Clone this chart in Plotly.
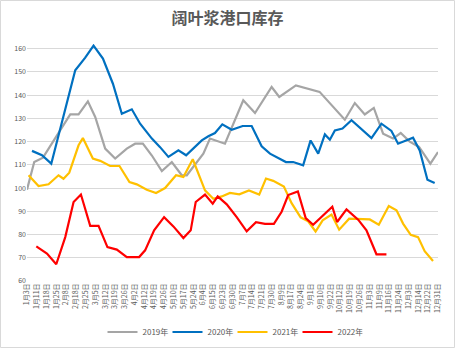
import plotly.graph_objects as go

title = "阔叶浆港口库存"

date_labels = ["1月3日", "1月11日", "1月18日", "1月25日", "2月8日", "2月18日", "2月25日",
               "3月5日", "3月12日", "3月19日", "3月26日", "4月2日", "4月12日", "4月19日",
               "4月26日", "5月10日", "5月17日", "5月24日", "6月4日", "6月15日", "6月23日",
               "6月30日", "7月7日", "7月14日", "7月21日", "7月30日", "8月9日", "8月17日",
               "8月24日", "9月1日", "9月10日", "9月22日", "10月12日", "10月19日", "10月26日",
               "11月3日", "11月9日", "11月16日", "11月24日", "12月3日", "12月14日",
               "12月22日", "12月31日"]

# positions are expressed in units of the date-label slots (0 = first label)
pos_2019 = [0, 0.74, 1.63, 4.42, 5.27, 6.22, 6.97, 7.99, 9.01, 10.2, 11.05, 11.84, 12.76,
            13.78, 14.8, 15.82, 16.33, 18.02, 18.7, 20.23, 22.1, 23.3, 25.0, 25.78, 27.48,
            29.9, 32.48, 33.5, 34.52, 35.44, 36.39, 37.41, 38.19, 39.11, 40.06, 41.22, 42]
val_2019 = [99.3, 111.2, 113.1, 131.7, 131.7, 137.3, 130.6, 117, 112.7, 117, 119.1, 119.1,
            114, 107.3, 111.2, 105.5, 105.5, 114.8, 121.3, 119.1, 137.8, 132.3, 143.5, 139.2,
            144.2, 141.4, 129.4, 136.6, 131.7, 134.5, 123.4, 121.3, 123.7, 120, 117.7, 110.5,
            115.5]

pos_2020 = [0.51, 1.53, 2.48, 4.93, 5.95, 6.8, 7.76, 8.78, 9.69, 10.71, 11.56, 12.76, 13.6,
            14.45, 15.47, 16.26, 17.86, 18.53, 19.21, 19.96, 20.92, 22.04, 22.96, 23.98,
            24.83, 26.46, 27.2, 28.22, 28.98, 29.76, 30.44, 30.95, 31.46, 32.24, 33.16, 35.2,
            36.22, 37.24, 37.92, 39.45, 40.13, 40.92, 41.66]
val_2020 = [116, 114.1, 110.5, 150.7, 156.1, 161.3, 155.7, 144.9, 132, 133.9, 127.7, 121.3,
            117.6, 113.4, 116.2, 114.1, 120.5, 122.3, 123.7, 127.4, 125.1, 126.7, 126.7, 118,
            114.8, 111.2, 111.2, 109.8, 120.5, 114.8, 123.1, 120.8, 124.8, 125.6, 129.2, 121.5,
            127.7, 124.6, 119.1, 121.7, 116.2, 103.6, 102.2]

pos_2021 = [0.16, 1.18, 2.2, 3.22, 3.73, 4.32, 5.27, 5.71, 6.73, 7.48, 8.5, 9.45, 10.47,
            11.22, 12.24, 13.19, 14.11, 15.23, 15.98, 16.94, 18.19, 19.04, 19.9, 20.74, 21.7,
            22.68, 23.73, 24.42, 25.16, 25.78, 26.25, 27.04, 27.96, 28.73, 29.49, 30.21,
            31.12, 31.9, 32.92, 35.03, 35.95, 36.97, 37.76, 38.43, 39.21, 39.96, 40.64, 41.49]
val_2021 = [105.5, 100.9, 101.6, 105.5, 104, 106.6, 118.4, 121.5, 112.7, 111.7, 109.5, 109.5,
            102.6, 101.6, 99.3, 97.9, 100, 105.5, 104.8, 112.4, 99, 95.4, 96.4, 97.9, 97.3,
            99, 97.2, 104.1, 103.1, 101.8, 100.7, 93.5, 87.4, 85.7, 81.3, 86.1, 88.6, 82.1,
            86.8, 86.5, 84.2, 92.3, 90.4, 84.7, 79.9, 78.9, 72.8, 68.6]

pos_2022 = [0.95, 2.04, 2.99, 3.91, 4.76, 5.51, 6.46, 7.31, 8.22, 9.18, 10.2, 11.46, 12.07,
            12.99, 14.01, 14.96, 15.98, 16.73, 17.24, 18.19, 18.98, 19.49, 20.41, 21.43,
            22.45, 23.4, 24.32, 25.23, 26.02, 26.69, 27.68, 28.48, 29.24, 30.44, 31.2, 31.69,
            32.65, 33.84, 34.69, 35.71, 36.73]
val_2022 = [74.9, 71.8, 67.2, 78.9, 94, 97.2, 83.7, 83.7, 74.6, 73.5, 70.3, 70.3, 73.2, 81.8,
            87.5, 83.5, 78.5, 81.8, 94, 97.2, 93.3, 96.4, 93, 87.5, 81.4, 85.3, 84.6, 84.6,
            89.8, 97, 98.5, 87.1, 84.2, 89, 92, 85.4, 90.8, 86.4, 81.8, 71.5, 71.5]

series = [
    ("2019年", pos_2019, val_2019, "#A5A5A5"),
    ("2020年", pos_2020, val_2020, "#0070C0"),
    ("2021年", pos_2021, val_2021, "#FFC000"),
    ("2022年", pos_2022, val_2022, "#FF0000"),
]

y_ticks = list(range(60, 161, 10))

W, H = 455, 348
ML, MR, MT, MB = 27, 17, 44, 67

fig = go.Figure()
for name, xs, ys, color in series:
    fig.add_trace(go.Scatter(x=xs, y=ys, mode="lines", name=name,
                             line=dict(color=color, width=2.2)))

font_family = "Noto Sans CJK SC, Noto Sans, sans-serif"
pw = W - ML - MR
ph = H - MT - MB

fig.update_layout(
    width=W, height=H,
    margin=dict(l=ML, r=MR, t=MT, b=MB, autoexpand=False),
    paper_bgcolor="white", plot_bgcolor="white",
    font=dict(family=font_family, color="#595959"),
    title=dict(text="<b>" + title + "</b>", x=0.5, xanchor="center",
               y=1 - 18 / H, yanchor="middle",
               font=dict(size=16, color="#595959", family=font_family)),
    showlegend=True,
    legend=dict(orientation="h", x=0.5, xanchor="center",
                y=-(332 - (H - MB)) / ph, yanchor="middle",
                font=dict(size=8, color="#595959"),
                entrywidth=20, entrywidthmode="pixels",
                itemwidth=30, tracegroupgap=0, bgcolor="rgba(0,0,0,0)"),
    xaxis=dict(range=[0, 42], tickmode="array", tickvals=list(range(len(date_labels))),
               ticktext=date_labels, tickangle=-90, showgrid=False, zeroline=False,
               showline=False, ticks="", tickfont=dict(size=7, color="#595959")),
    yaxis=dict(range=[60, 162], tickmode="array", tickvals=y_ticks,
               ticktext=[str(v) for v in y_ticks], showgrid=True, gridcolor="#D9D9D9",
               gridwidth=1, zeroline=False, showline=False, ticks="",
               tickfont=dict(size=7, color="#595959")),
    shapes=[dict(type="rect", xref="paper", yref="paper",
                 x0=(-ML + 0.5) / pw, x1=1 + (MR - 0.5) / pw,
                 y0=(-MB + 0.5) / ph, y1=1 + (MT - 0.5) / ph,
                 line=dict(color="#D9D9D9", width=1), layer="below")],
)

fig.write_html("out.html")
